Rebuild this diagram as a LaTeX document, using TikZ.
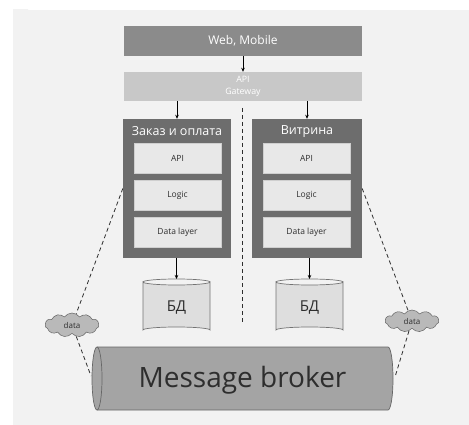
\documentclass[tikz,border=0pt]{standalone}
\usepackage{fontspec}
\setmainfont{Open Sans}
\usetikzlibrary{shapes.geometric,shapes.symbols,arrows.meta}
\definecolor{panel}{HTML}{F2F2F2}
\definecolor{webc}{HTML}{8B8B8B}
\definecolor{gwc}{HTML}{C8C8C8}
\definecolor{svcc}{HTML}{6D6D6D}
\definecolor{innerc}{HTML}{E8E8E8}
\definecolor{innerb}{HTML}{CFCFCF}
\definecolor{dbc}{HTML}{DEDEDE}
\definecolor{brokc}{HTML}{A4A4A4}
\definecolor{cloudc}{HTML}{B9B9B9}
\definecolor{txtd}{HTML}{2E2E2E}
\tikzset{
  topbox/.style={rectangle, inner sep=0pt, minimum width=238pt, minimum height=30pt, text=white},
  svcbox/.style={rectangle, fill=svcc, inner sep=0pt, minimum width=108pt, minimum height=139pt},
  layerbox/.style={rectangle, fill=innerc, draw=innerb, line width=0.4pt, inner sep=0pt, minimum width=87pt, minimum height=30pt, text=txtd, font=\fontsize{8.5}{10}\selectfont},
  svctitle/.style={text=white, inner sep=0pt, font=\fontsize{12.5}{14}\selectfont},
  dbline/.style={draw=black!55, line width=0.7pt, fill=dbc},
  dblabel/.style={inner sep=0pt, text=txtd, font=\fontsize{15}{17}\selectfont},
  cloudshape/.style={cloud, cloud puffs=11, cloud puff arc=110, aspect=2.2, fill=cloudc, draw=gray!80!black, line width=0.5pt, inner sep=0pt, minimum width=54pt, minimum height=24pt, text=txtd, font=\fontsize{8}{9}\selectfont},
  arr/.style={-{Stealth[length=4pt,width=3.5pt]}, line width=0.6pt, black},
  dsh/.style={dash pattern=on 4pt off 3pt, line width=0.8pt, txtd},
}
\begin{document}
\begin{tikzpicture}[x=1pt,y=-1pt]
\useasboundingbox (0,0) rectangle (469,425);
\fill[white] (0,0) rectangle (469,425);
\fill[panel] (13,10) rectangle (469,425);
\shade[left color=black!5, right color=panel] (13,10) rectangle (28,425);

\node[topbox, fill=webc, font=\fontsize{12}{14}\selectfont] (web) at (243,41) {Web, Mobile};
\node[topbox, fill=gwc, minimum height=29pt, align=center, font=\fontsize{8.8}{12}\selectfont] (gw) at (243,86.5) {API\\Gateway};

\node[svcbox] (svcL) at (177,188.5) {};
\node[svcbox, minimum width=110pt] (svcR) at (307,188.5) {};
\node[svctitle] (tL) at (177,131.5) {Заказ и оплата};
\node[svctitle] (tR) at (307,131.5) {Витрина};

\node[layerbox] (apiL) at (177.5,158) {API};
\node[layerbox] (logL) at (177.5,195) {Logic};
\node[layerbox] (datL) at (177.5,232) {Data layer};
\node[layerbox] (apiR) at (306.5,158) {API};
\node[layerbox] (logR) at (306.5,195) {Logic};
\node[layerbox] (datR) at (306.5,232) {Data layer};

% database cylinders
\foreach \cx in {176.5, 309.5}{
  \path[dbline] (\cx-33.5,282) -- (\cx-33.5,330)
    arc[start angle=180, end angle=360, x radius=33.5, y radius=3]
    -- (\cx+33.5,282)
    arc[start angle=0, end angle=180, x radius=33.5, y radius=3] -- cycle;
  \draw[draw=black!55, line width=0.7pt] (\cx-33.5,282)
    arc[start angle=180, end angle=360, x radius=33.5, y radius=3];
}
\node[dblabel] (dbL) at (176.5,308) {БД};
\node[dblabel] (dbR) at (309.5,308) {БД};
\coordinate (dbLt) at (176.5,279);
\coordinate (dbRt) at (309.5,279);

% message broker cylinder
\path[draw=black!60, line width=0.7pt, fill=brokc] (97,347) -- (388,347)
  arc[start angle=-90, end angle=90, x radius=5, y radius=31.5]
  -- (97,410)
  arc[start angle=90, end angle=270, x radius=5, y radius=31.5] -- cycle;
\draw[draw=black!60, line width=0.7pt] (97,347)
  arc[start angle=-90, end angle=90, x radius=5, y radius=31.5];
\node[inner sep=0pt, text=txtd, font=\fontsize{28}{32}\selectfont] (broker) at (242.5,380) {Message broker};
\coordinate (brokW) at (91,376);
\coordinate (brokE) at (395,377);

\node[cloudshape] (cL) at (72,325) {data};
\node[cloudshape, minimum height=22pt] (cR) at (412,321) {data};

\coordinate (midT) at (242,108);
\coordinate (midB) at (242,323);
\draw[dsh] (midT) -- (midB);

\draw[arr] (web.south) -- (gw.north);
\draw[arr] (svcL.north |- gw.south) -- (svcL.north);
\draw[arr] (svcR.north |- gw.south) -- (svcR.north);
\draw[arr] (dbLt |- svcL.south) -- (dbLt);
\draw[arr] (dbRt |- svcR.south) -- (dbRt);

\draw[dsh] (svcL.west) -- (cL);
\draw[dsh] (cL) -- (brokW);
\draw[dsh] (svcR.east) -- (cR);
\draw[dsh] (cR) -- (brokE);
\end{tikzpicture}
\end{document}
